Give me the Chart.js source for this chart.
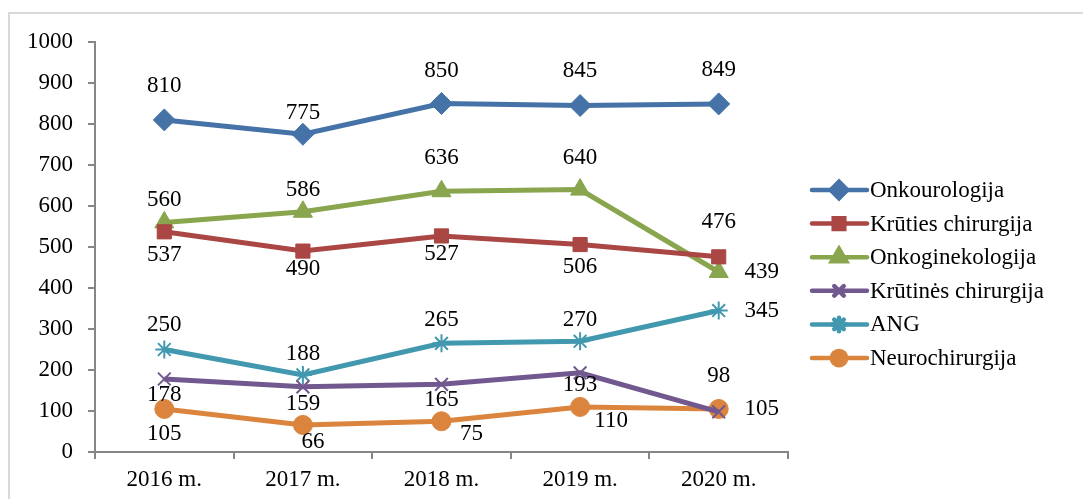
<!DOCTYPE html>
<html>
<head>
<meta charset="utf-8">
<script src="https://cdn.jsdelivr.net/npm/chart.js@4/dist/chart.umd.min.js"></script>
<style>
  html, body { margin: 0; padding: 0; background: #fff; overflow: hidden; }
  #frame { position: absolute; left: 8px; top: 12px; width: 1090px; height: 500px; border: 2px solid #d9d9d9; box-sizing: border-box; }
  #myChart { position: absolute; left: 0; top: 0; }
</style>
</head>
<body>
<div id="frame"></div>
<canvas id="myChart" width="1083" height="499"></canvas>
<script>
// categories and series
var years = ["2016 m.", "2017 m.", "2018 m.", "2019 m.", "2020 m."];
var onkourologija = [810, 775, 850, 845, 849];
var krutiesChirurgija = [537, 490, 527, 506, 476];
var onkoginekologija = [560, 586, 636, 640, 439];
var krutinesChirurgija = [178, 159, 165, 193, 98];
var ang = [250, 188, 265, 270, 345];
var neurochirurgija = [105, 66, 75, 110, 105];
var yTicks = [0, 100, 200, 300, 400, 500, 600, 700, 800, 900, 1000];

// where each value label sits relative to its point [dx, dy]
var labelOffsets = [
  [[0, -34], [0, -21], [0, -33], [0, -35], [0, -34]],
  [[0, 23], [0, 18], [0, 18], [0, 22], [0, -35]],
  [[0, -22], [0, -22], [0, -33], [0, -32], [43, 0]],
  [[0, 16], [0, 17], [0, 16], [0, 12], [0, -36]],
  [[0, -25], [0, -21], [0, -23], [0, -21], [43, 0]],
  [[0, 25], [10, 17], [30, 13], [31, 14], [43, 0]]
];

var font = "'Liberation Serif', 'Times New Roman', serif";

function series(label, values, color, style, radius) {
  return {
    label: label,
    data: values,
    borderColor: color,
    backgroundColor: color,
    borderWidth: 5,
    pointStyle: style,
    pointRadius: radius,
    pointHoverRadius: radius,
    pointBorderWidth: (style == 'crossRot' || style == 'star') ? 2 : 1,
    tension: 0,
    fill: false
  };
}

var labelPlugin = {
  id: 'labels',
  afterDatasetsDraw: function(chart) {
    var ctx = chart.ctx;
    ctx.save();
    ctx.font = "23px " + font;
    ctx.fillStyle = "#000";
    ctx.textAlign = "center";
    ctx.textBaseline = "middle";
    chart.data.datasets.forEach(function(ds, i) {
      var meta = chart.getDatasetMeta(i);
      meta.data.forEach(function(pt, j) {
        var off = labelOffsets[i][j];
        ctx.fillText(String(ds.data[j]), pt.x + off[0], pt.y + off[1]);
      });
    });

    // legend on the right
    var lx = 812, ly = 190, step = 33.6;
    ctx.font = "23px " + font;
    chart.data.datasets.forEach(function(ds, i) {
      var y = ly + i * step;
      ctx.strokeStyle = ds.borderColor;
      ctx.lineWidth = 4.5;
      ctx.lineCap = "round";
      ctx.beginPath();
      ctx.moveTo(lx, y);
      ctx.lineTo(lx + 55, y);
      ctx.stroke();
      ctx.fillStyle = ds.backgroundColor;
      Chart.helpers.drawPoint(ctx, {
        pointStyle: ds.pointStyle,
        radius: ds.pointRadius * 0.75,
        borderWidth: ds.pointBorderWidth,
        rotation: 0
      }, lx + 27, y);
      ctx.fillStyle = "#000";
      ctx.textAlign = "left";
      ctx.fillText(ds.label, lx + 58, y + 1);
    });
    ctx.restore();
  }
};

var chart = new Chart(document.getElementById('myChart').getContext('2d'), {
  type: 'line',
  data: {
    labels: years,
    datasets: [
      series("Onkourologija", onkourologija, "#4572A7", 'rectRot', 11),
      series("Krūties chirurgija", krutiesChirurgija, "#AA4643", 'rect', 10),
      series("Onkoginekologija", onkoginekologija, "#89A54E", 'triangle', 11),
      series("Krūtinės chirurgija", krutinesChirurgija, "#71588F", 'crossRot', 9),
      series("ANG", ang, "#4198AF", 'star', 9),
      series("Neurochirurgija", neurochirurgija, "#DB843D", 'circle', 9.5)
    ]
  },
  options: {
    responsive: false,
    animation: false,
    layout: { padding: { top: 42, right: 295, left: 0, bottom: 0 } },
    plugins: {
      legend: { display: false },
      tooltip: { enabled: false }
    },
    scales: {
      x: {
        offset: true,
        afterFit: function(scale) { scale.height = 47; },
        grid: { drawOnChartArea: false, drawTicks: true, tickLength: 7, color: "#868686", lineWidth: 2, offset: true },
        border: { color: "#868686", width: 2 },
        ticks: { color: "#000", font: { family: font, size: 23 }, padding: 7 }
      },
      y: {
        min: 0,
        max: 1000,
        afterFit: function(scale) { scale.width = 95; },
        afterBuildTicks: function(scale) { scale.ticks = yTicks.map(function(v) { return { value: v }; }); },
        grid: { drawOnChartArea: false, drawTicks: true, tickLength: 7, color: "#868686", lineWidth: 2 },
        border: { color: "#868686", width: 2 },
        ticks: {
          color: "#000",
          font: { family: font, size: 23 },
          padding: 15,
          callback: function(v) { return String(v); }
        }
      }
    }
  },
  plugins: [labelPlugin]
});
</script>
</body>
</html>
